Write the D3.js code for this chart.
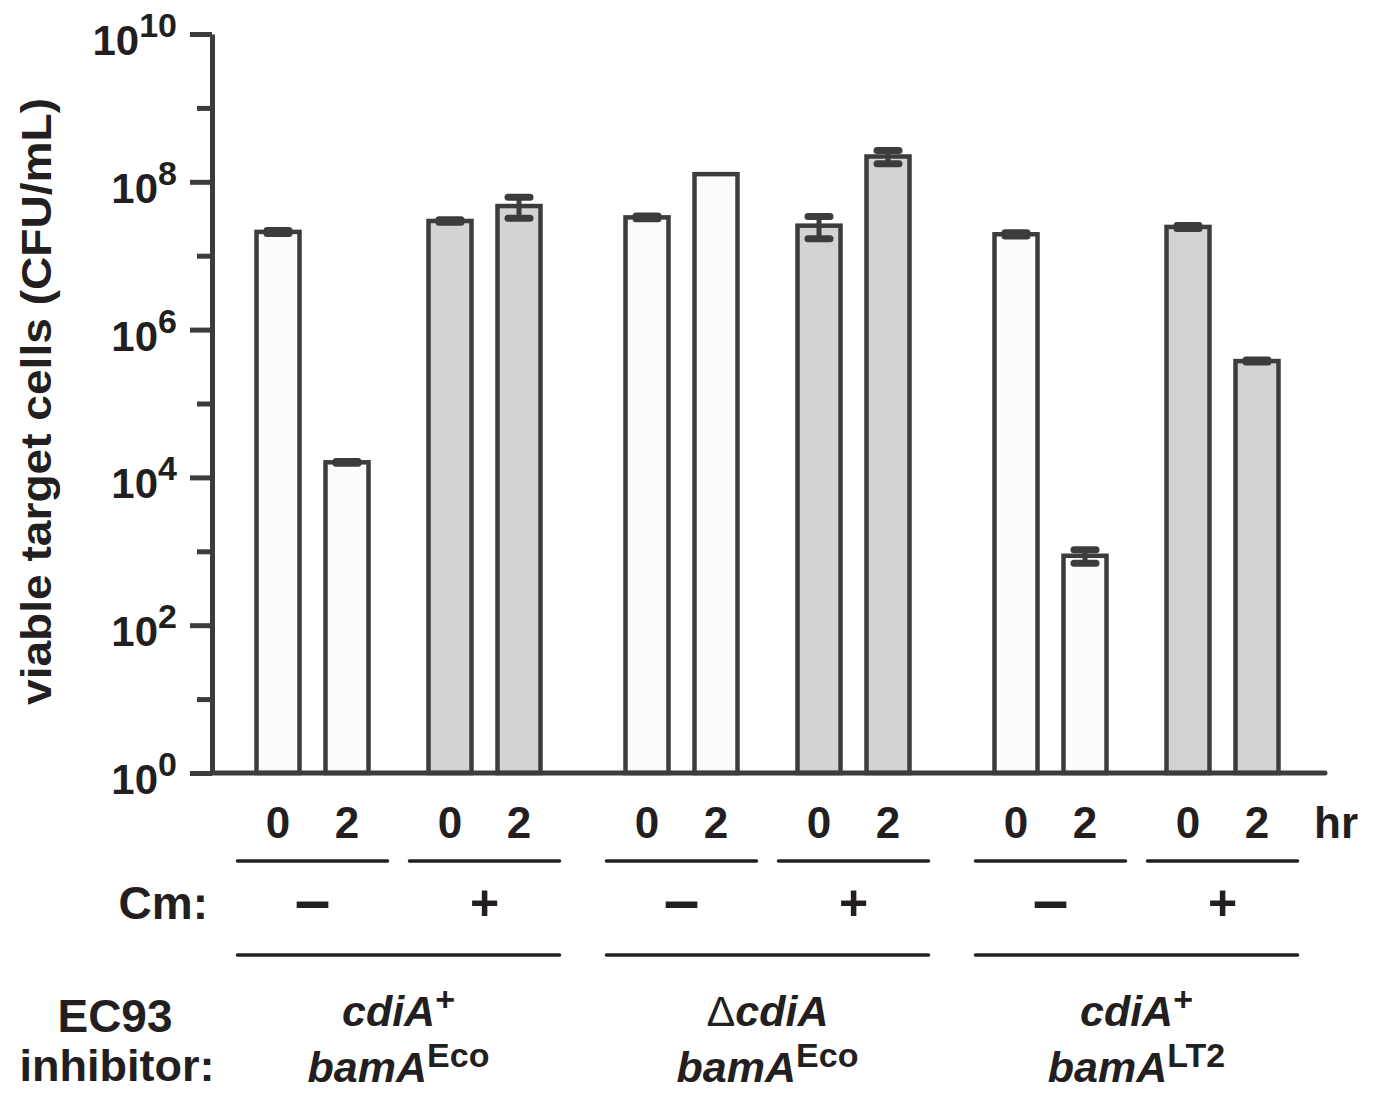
<!DOCTYPE html>
<html>
<head>
<meta charset="utf-8">
<script src="https://cdn.jsdelivr.net/npm/d3@7"></script>
<style>
  body { margin: 0; background: #fff; }
  svg { display: block; }
  text { font-family: "Liberation Sans", Arial, sans-serif; font-weight: bold; fill: #231f20; }
</style>
</head>
<body>
<svg width="1374" height="1094"></svg>
<script>

// groups of inhibitor strains, Cm treatment, time points
const groups = ["cdiA+ bamAEco", "ΔcdiA bamAEco", "cdiA+ bamALT2"];
const groupLine1 = [["cdiA", "+"], ["ΔcdiA", ""], ["cdiA", "+"]];
const groupLine2 = [["bamA", "Eco"], ["bamA", "Eco"], ["bamA", "LT2"]];
const cmLevels = ["−", "+"];
const hours = ["0", "2"];

// viable target cells (CFU/mL), one value per bar, in order group > Cm > hour
const means = [2.1e7, 1.6e4, 2.95e7, 4.7e7, 3.3e7, 1.27e8, 2.55e7, 2.2e8, 1.95e7, 870, 2.45e7, 3.75e5];
const sds   = [1.0e6, 4.0e2, 1.2e6, 1.5e7, 1.5e6, 0,      8.5e6,  4.5e7, 1.0e6,  180, 1.2e6,  1.2e4];

const yTicks = [1, 1e2, 1e4, 1e6, 1e8, 1e10];
const yMinor = [1e1, 1e3, 1e5, 1e7, 1e9];

const svg = d3.select("svg");
const axisColor = "#3c3c3c";

const y = d3.scaleLog().domain([1, 1e10]).range([773, 34]);
const xGroup = d3.scaleBand().domain(groups).range([214, 1321]);
const xCm = d3.scalePoint().domain(cmLevels).range([98.5, 270.5]);
const xHour = d3.scalePoint().domain(hours).range([-34.5, 34.5]);

const bars = [];
groups.forEach((g, gi) => {
  cmLevels.forEach(c => {
    hours.forEach(h => {
      const i = bars.length;
      bars.push({group: g, cm: c, hour: h, mean: means[i], sd: sds[i],
                 cx: xGroup(g) + xCm(c) + xHour(h)});
    });
  });
});

const barW = 43;

// bars
svg.selectAll(".bar").data(bars)
  .enter().append("rect")
    .attr("class", "bar")
    .attr("x", d => d.cx - barW / 2)
    .attr("y", d => y(d.mean))
    .attr("width", barW)
    .attr("height", d => y(1) - y(d.mean))
    .style("fill", d => d.cm == "+" ? "#d3d3d3" : "#fcfcfc")
    .style("stroke", axisColor)
    .style("stroke-width", 4.5)

// error bars
const err = bars.filter(d => d.sd > 0);
svg.selectAll(".err").data(err)
  .enter().append("line")
    .attr("class", "err")
    .attr("x1", d => d.cx).attr("x2", d => d.cx)
    .attr("y1", d => y(d.mean + d.sd))
    .attr("y2", d => y(Math.max(d.mean - d.sd, 1)))
    .style("stroke", axisColor)
    .style("stroke-width", 5)

const caps = [];
err.forEach(d => {
  caps.push({cx: d.cx, v: d.mean + d.sd});
  caps.push({cx: d.cx, v: d.mean - d.sd});
});
svg.selectAll(".cap").data(caps)
  .enter().append("line")
    .attr("class", "cap")
    .attr("x1", d => d.cx - 11).attr("x2", d => d.cx + 11)
    .attr("y1", d => y(d.v)).attr("y2", d => y(d.v))
    .style("stroke", axisColor)
    .style("stroke-width", 7)
    .style("stroke-linecap", "round")

// y axis
const yAxis = svg.append("g").attr("transform", "translate(212,0)")
  .call(d3.axisLeft(y).tickValues(yTicks).tickFormat("").tickSize(22).tickSizeOuter(0));
yAxis.select(".domain").style("stroke", axisColor).style("stroke-width", 5);
yAxis.selectAll(".tick line").style("stroke", axisColor).style("stroke-width", 5);

const yAxisMinor = svg.append("g").attr("transform", "translate(212,0)")
  .call(d3.axisLeft(y).tickValues(yMinor).tickFormat("").tickSize(15));
yAxisMinor.select(".domain").remove();
yAxisMinor.selectAll(".tick line").style("stroke", axisColor).style("stroke-width", 5);

const yLabels = svg.selectAll(".ylab").data(yTicks)
  .enter().append("text")
    .attr("class", "ylab")
    .attr("x", 177)
    .attr("y", d => y(d) + 21)
    .attr("text-anchor", "end")
    .style("font-size", "42px");
yLabels.append("tspan").text("10");
yLabels.append("tspan")
  .attr("dy", -18)
  .style("font-size", "34px")
  .text(d => Math.round(Math.log10(d)));

// x axis line
svg.append("line")
  .attr("x1", 212).attr("x2", 1325)
  .attr("y1", y(1)).attr("y2", y(1))
  .style("stroke", axisColor)
  .style("stroke-width", 5)
  .style("stroke-linecap", "round")

// y title
svg.append("text")
  .attr("transform", "translate(51,401.5) rotate(-90)")
  .attr("text-anchor", "middle")
  .attr("textLength", 607)
  .attr("lengthAdjust", "spacingAndGlyphs")
  .style("font-size", "43px")
  .text("viable target cells (CFU/mL)");

// hour labels
svg.selectAll(".hr").data(bars)
  .enter().append("text")
    .attr("class", "hr")
    .attr("x", d => d.cx)
    .attr("y", 838)
    .attr("text-anchor", "middle")
    .style("font-size", "44px")
    .text(d => d.hour);

svg.append("text")
  .attr("x", 1336).attr("y", 838)
  .attr("text-anchor", "middle")
  .style("font-size", "44px")
  .text("hr");

// Cm rows
const pairs = [];
groups.forEach(g => cmLevels.forEach(c => pairs.push({group: g, cm: c, cx: xGroup(g) + xCm(c)})));

svg.selectAll(".pairline").data(pairs)
  .enter().append("line")
    .attr("class", "pairline")
    .attr("x1", d => d.cx - 75).attr("x2", d => d.cx + 75)
    .attr("y1", 861).attr("y2", 861)
    .style("stroke", "#231f20")
    .style("stroke-width", 3.5)
    .style("stroke-linecap", "round")

svg.selectAll(".cmlab").data(pairs)
  .enter().append("text")
    .attr("class", "cmlab")
    .attr("x", d => d.cx)
    .attr("y", d => d.cm == "+" ? 920 : 922)
    .attr("text-anchor", "middle")
    .style("font-size", d => d.cm == "+" ? "50px" : "64px")
    .text(d => d.cm == "+" ? "+" : "–");

svg.append("text")
  .attr("x", 208).attr("y", 919)
  .attr("text-anchor", "end")
  .style("font-size", "46px")
  .text("Cm:");

// group rows
svg.selectAll(".groupline").data(groups)
  .enter().append("line")
    .attr("class", "groupline")
    .attr("x1", d => xGroup(d) + xCm("−") - 75)
    .attr("x2", d => xGroup(d) + xCm("+") + 75)
    .attr("y1", 955).attr("y2", 955)
    .style("stroke", "#231f20")
    .style("stroke-width", 3.5)
    .style("stroke-linecap", "round")

function geneLabel(sel, parts, yPos) {
  sel.append("text")
    .attr("x", (d, i) => xGroup(d) + xGroup.bandwidth() / 2)
    .attr("y", yPos)
    .attr("text-anchor", "middle")
    .style("font-size", "43px")
    .each(function(d, i) {
      const t = d3.select(this);
      let name = parts[i][0];
      if (name.startsWith("Δ")) {
        t.append("tspan").style("font-style", "normal").style("font-weight", "normal").text("Δ");
        name = name.slice(1);
      }
      t.append("tspan").style("font-style", "italic").text(name);
      if (parts[i][1]) {
        t.append("tspan")
          .attr("dy", -15)
          .style("font-size", "34px")
          .text(parts[i][1]);
      }
    });
}

const glab = svg.selectAll(".glab").data(groups).enter().append("g").attr("class", "glab");
geneLabel(glab, groupLine1, 1026);
geneLabel(glab, groupLine2, 1082);

svg.append("text")
  .attr("x", 115).attr("y", 1032)
  .attr("text-anchor", "middle")
  .style("font-size", "46px")
  .text("EC93");
svg.append("text")
  .attr("x", 117).attr("y", 1081)
  .attr("text-anchor", "middle")
  .style("font-size", "45px")
  .text("inhibitor:");

</script>
</body>
</html>
